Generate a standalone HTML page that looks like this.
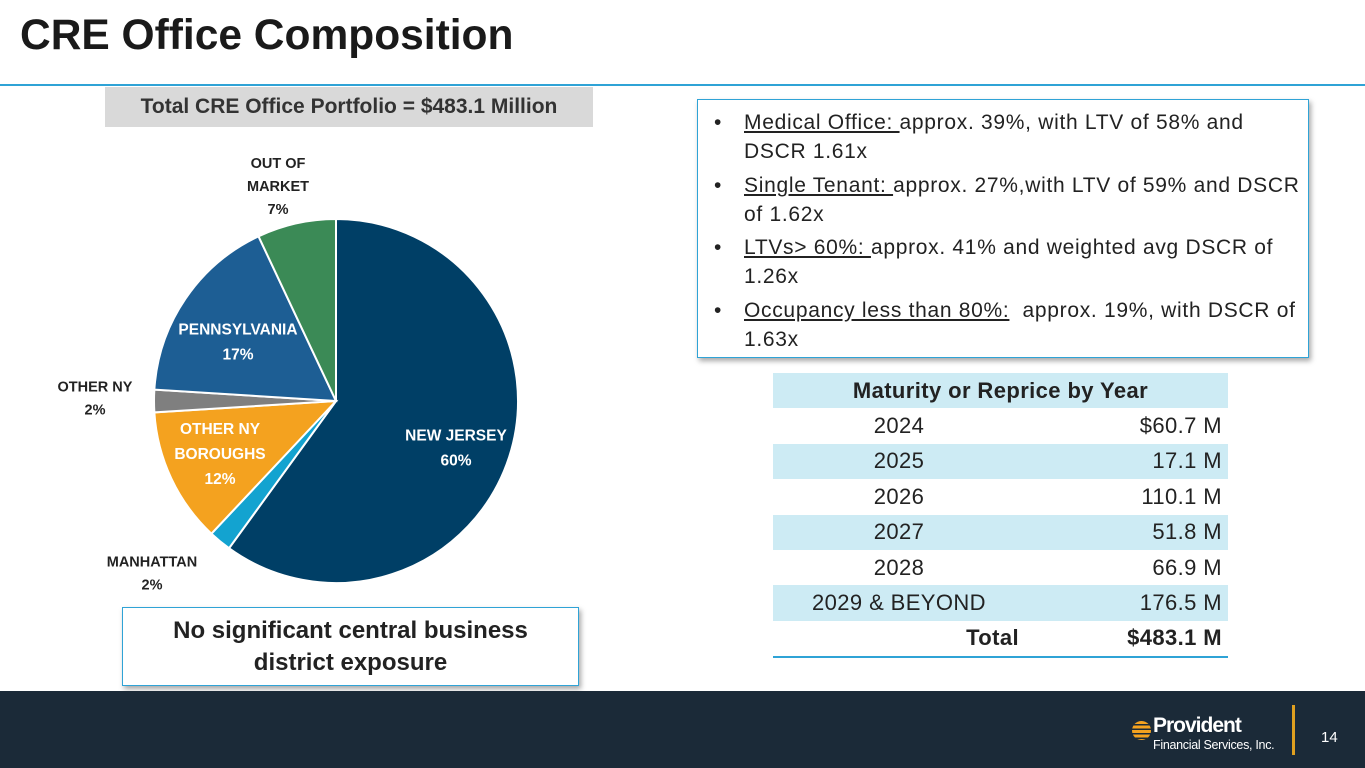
<!DOCTYPE html>
<html><head><meta charset="utf-8"><style>
body{margin:0;width:1365px;height:768px;position:relative;overflow:hidden;background:#fff;font-family:"Liberation Sans",Arial,sans-serif;}
.abs{position:absolute;}
.title{left:20px;top:12px;font-size:42.5px;font-weight:bold;color:#1a1a1a;}
.rule{left:0;top:84px;width:1365px;height:2px;background:#2fa3d6;}
.gbox{left:105px;top:87px;width:488px;height:40px;background:#d9d9d9;font-weight:bold;font-size:21px;color:#333;text-align:center;line-height:40px;white-space:nowrap;}
.bullets{left:697px;top:99px;width:612px;height:259px;border:1.5px solid #2fa3d6;box-shadow:2px 3px 5px rgba(0,0,0,.35);box-sizing:border-box;}
.bullets ul{margin:0;padding:8px 0 0 46px;font-size:21px;letter-spacing:0.7px;line-height:29px;color:#222;list-style:none;white-space:nowrap;}
.bullets li{position:relative;margin-bottom:4.5px;}
.bullets li:before{content:"•";position:absolute;left:-30px;}
table{position:absolute;left:773px;top:373px;width:455px;border-collapse:collapse;font-size:22px;letter-spacing:0.4px;color:#222;}
td{height:35.4px;padding:0 6px;white-space:nowrap;}
tr.c td{background:#cdebf4;}
.foot{left:0;top:691px;width:1365px;height:77px;background:#1b2a38;}
.cbox{left:122px;top:607px;width:457px;height:79px;border:1.5px solid #2fa3d6;box-sizing:border-box;box-shadow:2px 3px 5px rgba(0,0,0,.35);font-size:24px;font-weight:bold;text-align:center;color:#222;line-height:32px;padding-top:7px;background:#fff;white-space:nowrap;}
</style></head><body>
<div class="abs title">CRE Office Composition</div>
<div class="abs rule"></div>
<div class="abs gbox">Total CRE Office Portfolio = $483.1 Million</div>
<svg class="abs" style="left:0;top:130px" width="680" height="480" id="pie"></svg>
<div class="abs bullets"><ul>
<li><u>Medical Office: </u>approx. 39%, with LTV of 58% and<br>DSCR 1.61x</li>
<li><u>Single Tenant: </u>approx. 27%,with LTV of 59% and DSCR<br>of 1.62x</li>
<li><u>LTVs&gt; 60%: </u>approx. 41% and weighted avg DSCR of<br>1.26x</li>
<li><u>Occupancy less than 80%:</u>&nbsp; approx. 19%, with DSCR of<br>1.63x</li>
</ul></div>
<table>
<tr class="c"><td colspan="2" style="text-align:center;font-weight:bold">Maturity or Reprice by Year</td></tr>
<tr><td style="text-align:center;width:240px">2024</td><td style="text-align:right">$60.7 M</td></tr>
<tr class="c"><td style="text-align:center">2025</td><td style="text-align:right">17.1 M</td></tr>
<tr><td style="text-align:center">2026</td><td style="text-align:right">110.1 M</td></tr>
<tr class="c"><td style="text-align:center">2027</td><td style="text-align:right">51.8 M</td></tr>
<tr><td style="text-align:center">2028</td><td style="text-align:right">66.9 M</td></tr>
<tr class="c"><td style="text-align:center">2029 &amp; BEYOND</td><td style="text-align:right">176.5 M</td></tr>
<tr><td style="text-align:right;font-weight:bold;border-bottom:2px solid #2fa3d6">Total</td><td style="text-align:right;font-weight:bold;border-bottom:2px solid #2fa3d6">$483.1 M</td></tr>
</table>
<div class="abs cbox">No significant central business<br>district exposure</div>
<div class="abs foot"></div>
<div class="abs" style="left:1132px;top:721px;width:19px;height:19px;border-radius:50%;background:repeating-linear-gradient(#f4a21f 0 3px,#1b2a38 3px 4.5px)"></div>
<div class="abs" style="left:1153px;top:714px;color:#fff;font-weight:bold;font-size:21px;letter-spacing:-1px">Provident</div>
<div class="abs" style="left:1153px;top:738px;color:#fff;font-size:12.5px;letter-spacing:-0.3px">Financial Services, Inc.</div>
<div class="abs" style="left:1292px;top:705px;width:3px;height:50px;background:#e0a020"></div>
<div class="abs" style="left:1321px;top:729px;color:#fff;font-size:15px">14</div>
<script>
const categories=["NEW JERSEY","MANHATTAN","OTHER NY BOROUGHS","OTHER NY","PENNSYLVANIA","OUT OF MARKET"];
const values=[60,2,12,2,17,7];
const labels=["60%","2%","12%","2%","17%","7%"];
const colors=["#003f66","#13a3d0","#f4a21f","#7f7f7f","#1d5e94","#3b8a56"];
const svg=document.getElementById('pie');
const NS="http://www.w3.org/2000/svg";
const cx=336,cy=271,r=182;
const total=values.reduce((a,b)=>a+b,0);
function pt(a,rad){return [cx+rad*Math.sin(a),cy-rad*Math.cos(a)];}
let a0=0;
const mids=[];
values.forEach((v,i)=>{
  const a1=a0+v/total*2*Math.PI;
  const p0=pt(a0,r),p1=pt(a1,r);
  const large=(a1-a0)>Math.PI?1:0;
  const p=document.createElementNS(NS,'path');
  p.setAttribute('d',`M${cx},${cy}L${p0[0]},${p0[1]}A${r},${r} 0 ${large} 1 ${p1[0]},${p1[1]}Z`);
  p.setAttribute('fill',colors[i]);p.setAttribute('stroke','#fff');p.setAttribute('stroke-width','2');
  
  
  svg.appendChild(p);
  mids.push((a0+a1)/2);
  a0=a1;
});
const inside=[true,false,true,false,true,false];
const lines=[["NEW JERSEY"],["MANHATTAN"],["OTHER NY","BOROUGHS"],["OTHER NY"],["PENNSYLVANIA"],["OUT OF","MARKET"]];
values.forEach((v,i)=>{
  let x,y;
  if(inside[i]){[x,y]=pt(mids[i],r*0.62);}
  else{[x,y]=pt(mids[i],r+45);}
  if(i===0){x=456;y=318;}
  if(i===1){x=152;y=443;}
  if(i===2){x=220;y=324;}
  if(i===3){x=95;y=268;}
  if(i===4){x=238;y=212;}
  if(i===5){x=278;y=56;}
  const all=lines[i].concat([labels[i]]);
  const t=document.createElementNS(NS,'text');
  t.setAttribute('text-anchor','middle');t.setAttribute('font-weight','bold');t.setAttribute('font-size',inside[i]?'15.5':'14.5');
  t.setAttribute('fill',inside[i]?'#fff':'#222');
  
  
  const step=inside[i]?25:23;
  all.forEach((s,k)=>{
    const ts=document.createElementNS(NS,'tspan');
    ts.setAttribute('x',x);ts.setAttribute('y',y-(all.length-1)*step/2+k*step+5);
    ts.textContent=s;t.appendChild(ts);
  });
  svg.appendChild(t);
});
</script>
</body></html>
